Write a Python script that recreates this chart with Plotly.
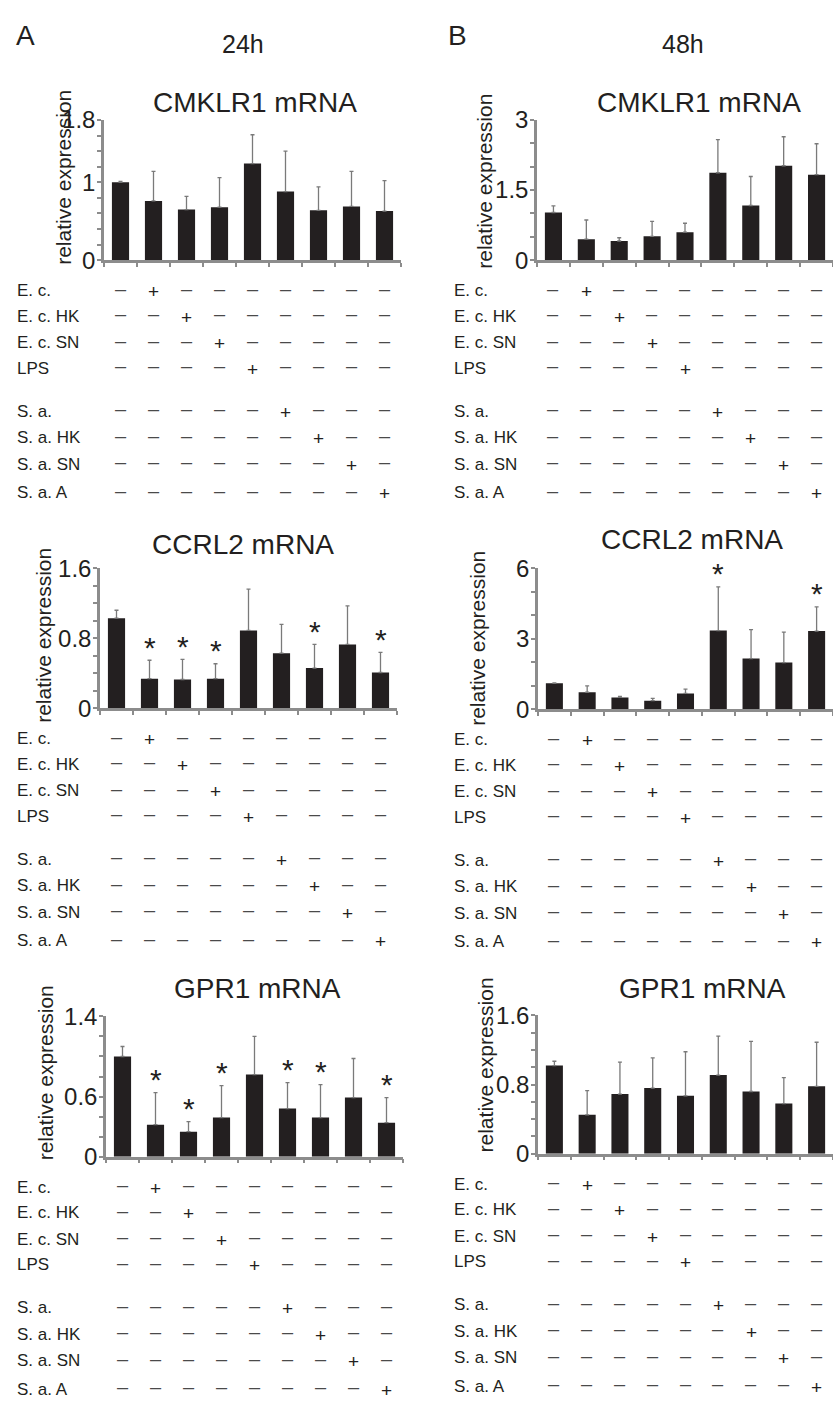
import plotly.graph_objects as go

# ---------------- data ----------------
categories = ["Control", "E. c.", "E. c. HK", "E. c. SN", "LPS",
              "S. a.", "S. a. HK", "S. a. SN", "S. a. A"]
treatments = ["E. c.", "E. c. HK", "E. c. SN", "LPS",
              "S. a.", "S. a. HK", "S. a. SN", "S. a. A"]
# design matrix: rows = treatments, columns = conditions (1 = "+", 0 = "–")
design = [
    [0, 1, 0, 0, 0, 0, 0, 0, 0],
    [0, 0, 1, 0, 0, 0, 0, 0, 0],
    [0, 0, 0, 1, 0, 0, 0, 0, 0],
    [0, 0, 0, 0, 1, 0, 0, 0, 0],
    [0, 0, 0, 0, 0, 1, 0, 0, 0],
    [0, 0, 0, 0, 0, 0, 1, 0, 0],
    [0, 0, 0, 0, 0, 0, 0, 1, 0],
    [0, 0, 0, 0, 0, 0, 0, 0, 1],
]

cmklr1_24h_mean = [1.00, 0.76, 0.65, 0.68, 1.24, 0.88, 0.64, 0.69, 0.63]
cmklr1_24h_err = [0.01, 0.38, 0.17, 0.38, 0.37, 0.52, 0.30, 0.45, 0.39]
cmklr1_24h_sig = [0, 0, 0, 0, 0, 0, 0, 0, 0]

cmklr1_48h_mean = [1.02, 0.45, 0.41, 0.51, 0.60, 1.87, 1.17, 2.02, 1.83]
cmklr1_48h_err = [0.14, 0.41, 0.07, 0.32, 0.19, 0.71, 0.62, 0.62, 0.66]
cmklr1_48h_sig = [0, 0, 0, 0, 0, 0, 0, 0, 0]

ccrl2_24h_mean = [1.03, 0.34, 0.33, 0.34, 0.89, 0.63, 0.46, 0.73, 0.41]
ccrl2_24h_err = [0.09, 0.21, 0.23, 0.17, 0.47, 0.33, 0.27, 0.44, 0.23]
ccrl2_24h_sig = [0, 1, 1, 1, 0, 0, 1, 0, 1]

ccrl2_48h_mean = [1.11, 0.73, 0.51, 0.37, 0.68, 3.35, 2.16, 1.99, 3.33]
ccrl2_48h_err = [0.02, 0.27, 0.04, 0.10, 0.18, 1.86, 1.23, 1.29, 1.03]
ccrl2_48h_sig = [0, 0, 0, 0, 0, 1, 0, 0, 1]

gpr1_24h_mean = [1.00, 0.32, 0.25, 0.39, 0.82, 0.48, 0.39, 0.59, 0.34]
gpr1_24h_err = [0.10, 0.32, 0.10, 0.32, 0.38, 0.26, 0.33, 0.39, 0.25]
gpr1_24h_sig = [0, 1, 1, 1, 0, 1, 1, 0, 1]

gpr1_48h_mean = [1.02, 0.45, 0.69, 0.76, 0.67, 0.91, 0.72, 0.58, 0.78]
gpr1_48h_err = [0.05, 0.28, 0.37, 0.35, 0.51, 0.45, 0.58, 0.30, 0.51]
gpr1_48h_sig = [0, 0, 0, 0, 0, 0, 0, 0, 0]

cmklr1_24h_ticks = [0, 1, 1.8]
cmklr1_48h_ticks = [0, 1.5, 3]
ccrl2_24h_ticks = [0, 0.8, 1.6]
ccrl2_48h_ticks = [0, 3, 6]
gpr1_24h_ticks = [0, 0.6, 1.4]
gpr1_48h_ticks = [0, 0.8, 1.6]

titles = ["CMKLR1 mRNA", "CCRL2 mRNA", "GPR1 mRNA"]
y_title = "relative expression"

# ---------------- layout helpers ----------------
W, H = 833, 1410
FONT = "Liberation Sans, Arial, sans-serif"
INK = "#231f20"
AXIS = "#8c8c8c"


def fx(px):
    return px / W


def fy(py):
    return 1 - py / H


panels = [
    dict(m=cmklr1_24h_mean, e=cmklr1_24h_err, s=cmklr1_24h_sig, t=cmklr1_24h_ticks, md=0.2,
         x0=104, x1=401, yt=108, yb=251, title=titles[0], tc=(255, 90), yc=(64, 166), lx=15),
    dict(m=cmklr1_48h_mean, e=cmklr1_48h_err, s=cmklr1_48h_sig, t=cmklr1_48h_ticks, md=0.5,
         x0=537, x1=833, yt=108, yb=251, title=titles[0], tc=(699, 90), yc=(485, 171), lx=452),
    dict(m=ccrl2_24h_mean, e=ccrl2_24h_err, s=ccrl2_24h_sig, t=ccrl2_24h_ticks, md=0.2,
         x0=100, x1=397, yt=565, yb=708, title=titles[1], tc=(243, 541), yc=(44, 634), lx=15),
    dict(m=ccrl2_48h_mean, e=ccrl2_48h_err, s=ccrl2_48h_sig, t=ccrl2_48h_ticks, md=1.0,
         x0=538, x1=833, yt=565, yb=709, title=titles[1], tc=(692, 536), yc=(478, 637), lx=452),
    dict(m=gpr1_24h_mean, e=gpr1_24h_err, s=gpr1_24h_sig, t=gpr1_24h_ticks, md=0.2,
         x0=106, x1=403, yt=1022, yb=1165, title=titles[2], tc=(257, 994), yc=(45, 1080), lx=15),
    dict(m=gpr1_48h_mean, e=gpr1_48h_err, s=gpr1_48h_sig, t=gpr1_48h_ticks, md=0.2,
         x0=538, x1=833, yt=1021, yb=1162, title=titles[2], tc=(702, 994), yc=(485, 1072), lx=452),
]

row_offsets = [31, 57, 84, 110, 154, 181, 208, 237]

fig = go.Figure()
annotations = []
layout = dict(
    width=W, height=H, autosize=False,
    margin=dict(l=0, r=0, t=0, b=0),
    paper_bgcolor="white", plot_bgcolor="white",
    showlegend=False,
    font=dict(family=FONT, color=INK),
)

idx_list = list(range(len(categories)))

for i, p in enumerate(panels):
    n = i + 1
    xa = "x" if n == 1 else f"x{n}"
    ya = "y" if n == 1 else f"y{n}"
    fig.add_trace(go.Bar(
        x=idx_list, y=p["m"], xaxis=xa, yaxis=ya,
        marker=dict(color=INK, line=dict(width=0)),
        width=0.52,
        error_y=dict(type="data", array=p["e"], arrayminus=[0] * len(p["e"]),
                     symmetric=False, color="#7a7a7a", thickness=1.3, width=2),
        hovertext=categories,
    ))
    ymax = p["t"][-1]
    layout["xaxis" if n == 1 else f"xaxis{n}"] = dict(
        domain=[fx(p["x0"]), min(1.0, fx(p["x1"]))], anchor=ya,
        range=[-0.5, 8.5], showgrid=False, zeroline=False,
        showline=True, linecolor=AXIS, linewidth=2.5,
        ticks="outside", tickvals=[k + 0.5 for k in range(-1, 9)],
        ticklen=4, tickwidth=1.5, tickcolor=AXIS, showticklabels=False,
    )
    layout["yaxis" if n == 1 else f"yaxis{n}"] = dict(
        domain=[fy(p["yb"]), fy(p["yt"])], anchor=xa,
        range=[0, ymax], showgrid=False, zeroline=False,
        showline=True, linecolor=AXIS, linewidth=2.5,
        tickmode="array", tickvals=p["t"], ticktext=[f"{v:g}" for v in p["t"]],
        ticks="outside", ticklen=4, tickwidth=1.5, tickcolor=AXIS,
        ticklabelstandoff=-3,
        tickfont=dict(size=24, color=INK, family=FONT),
        minor=dict(dtick=p["md"], tick0=0, ticks="outside", ticklen=4,
                   tickwidth=1.5, tickcolor=AXIS, showgrid=False),
    )
    annotations.append(dict(text=p["title"], xref="paper", yref="paper",
                            x=fx(p["tc"][0]), y=fy(p["tc"][1]), xanchor="center", yanchor="middle",
                            showarrow=False, font=dict(size=28, color=INK, family=FONT)))
    annotations.append(dict(text=y_title, xref="paper", yref="paper", textangle=-90,
                            x=fx(p["yc"][0]), y=fy(p["yc"][1]), xanchor="center", yanchor="middle",
                            showarrow=False, font=dict(size=21, color=INK, family=FONT)))
    for k, sig in enumerate(p["s"]):
        if sig:
            annotations.append(dict(text="*", xref=xa, yref=ya, x=k, y=p["m"][k] + p["e"][k],
                                    xanchor="center", yanchor="middle", yshift=13,
                                    showarrow=False, font=dict(size=30, color=INK, family=FONT)))
    for r, name in enumerate(treatments):
        ypos = fy(p["yb"] + row_offsets[r])
        annotations.append(dict(text=name, xref="paper", yref="paper", x=fx(p["lx"]), y=ypos,
                                xanchor="left", yanchor="middle", showarrow=False,
                                font=dict(size=17, color=INK, family=FONT)))
        for k, v in enumerate(design[r]):
            if v:
                annotations.append(dict(text="+", xref=xa, yref="paper", x=k, y=ypos,
                                        xanchor="center", yanchor="middle", yshift=-1,
                                        showarrow=False, font=dict(size=19, color=INK, family=FONT)))
            else:
                annotations.append(dict(text="–", xref=xa, yref="paper", x=k, y=ypos,
                                        xanchor="center", yanchor="middle", yshift=2,
                                        showarrow=False, font=dict(size=20, color="#4a4a4a", family=FONT)))

for txt, x, y, size in [("A", 25, 22, 28), ("B", 457, 22, 28), ("24h", 243, 31, 25), ("48h", 683, 31, 25)]:
    annotations.append(dict(text=txt, xref="paper", yref="paper", x=fx(x), y=fy(y),
                            xanchor="center", yanchor="middle", showarrow=False,
                            font=dict(size=size, color=INK, family=FONT)))

layout["annotations"] = annotations
fig.update_layout(**layout)
fig.write_html(
    "out.html",
    config={"displayModeBar": False},
    post_script="document.body.style.margin='0';document.body.style.padding='0';"
                "document.body.style.overflow='hidden';",
)
